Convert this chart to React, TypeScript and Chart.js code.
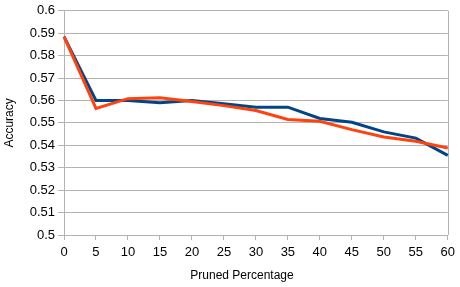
import React, { useEffect, useRef } from "react";
import { Chart, registerables } from "chart.js";

Chart.register(...registerables);

const xLabels = ["0", "5", "10", "15", "20", "25", "30", "35", "40", "45", "50", "55", "60"];
const blueSeries = [0.5885, 0.56, 0.56, 0.559, 0.56, 0.5585, 0.557, 0.557, 0.552, 0.5503, 0.546, 0.5432, 0.5355];
const orangeSeries = [0.5885, 0.5565, 0.5608, 0.5612, 0.5595, 0.5577, 0.5555, 0.5515, 0.5507, 0.547, 0.5437, 0.5418, 0.5388];
const yMin = 0.5;
const yMax = 0.6;
const yStep = 0.01;
const xTitle = "Pruned Percentage";
const yTitle = "Accuracy";

const FONT = "'Liberation Sans', Arial, sans-serif";
const GRID = "#b3b3b3";

export default function App() {
  const ref = useRef<HTMLCanvasElement>(null);

  useEffect(() => {
    if (!ref.current) return;
    const framePlugin = {
      id: "frame",
      beforeDatasetsDraw(chart: any) {
        const { ctx, chartArea } = chart;
        ctx.save();
        ctx.strokeStyle = GRID;
        ctx.lineWidth = 1;
        const x = Math.round(chartArea.right) + 0.5;
        ctx.beginPath();
        ctx.moveTo(x, chartArea.top);
        ctx.lineTo(x, chartArea.bottom);
        ctx.stroke();
        ctx.restore();
      },
    };
    const xTitlePlugin = {
      id: "xTitle",
      afterDraw(chart: any) {
        const { ctx } = chart;
        ctx.save();
        ctx.font = `12px ${FONT}`;
        ctx.fillStyle = "#000";
        ctx.textAlign = "center";
        ctx.textBaseline = "middle";
        ctx.fillText(xTitle, chart.width / 2 + 12, 276);
        ctx.restore();
      },
    };
    const chart = new Chart(ref.current, {
      type: "line",
      data: {
        labels: xLabels,
        datasets: [
          {
            label: "A",
            data: blueSeries,
            borderColor: "#004586",
            backgroundColor: "#004586",
            borderWidth: 3,
            pointRadius: 0,
            tension: 0,
            order: 2,
          },
          {
            label: "B",
            data: orangeSeries,
            borderColor: "#ff420e",
            backgroundColor: "#ff420e",
            borderWidth: 3,
            pointRadius: 0,
            tension: 0,
            order: 1,
          },
        ],
      },
      options: {
        responsive: false,
        animation: false,
        layout: { padding: { top: 10, right: 12, left: 0, bottom: 0 } },
        plugins: { legend: { display: false }, tooltip: { enabled: false } },
        scales: {
          x: {
            type: "category",
            offset: false,
            grid: { drawOnChartArea: false, drawTicks: true, tickLength: 5, color: GRID },
            border: { display: true, color: GRID },
            ticks: {
              color: "#000",
              font: { family: FONT, size: 13 },
              padding: 5,
              maxRotation: 0,
              autoSkip: false,
            },
            afterFit: (scale: any) => {
              scale.height = 52;
            },
          },
          y: {
            min: yMin,
            max: yMax,
            grid: { color: GRID, tickLength: 6 },
            border: { display: true, color: GRID },
            ticks: {
              stepSize: yStep,
              color: "#000",
              font: { family: FONT, size: 13 },
              padding: 3,
              callback: (v: any) => String(Number(Number(v).toFixed(2))),
            },
            title: {
              display: true,
              text: yTitle,
              color: "#000",
              font: { family: FONT, size: 12 },
              padding: { top: 2, bottom: 0 },
            },
            afterFit: (scale: any) => {
              scale.width = 64;
            },
          },
        },
      },
      plugins: [framePlugin, xTitlePlugin],
    });
    return () => chart.destroy();
  }, []);

  return (
    <div style={{ position: "absolute", left: 0, top: 0, width: 460, height: 287, background: "#fff" }}>
      <canvas ref={ref} width={460} height={287} style={{ display: "block" }} />
    </div>
  );
}
